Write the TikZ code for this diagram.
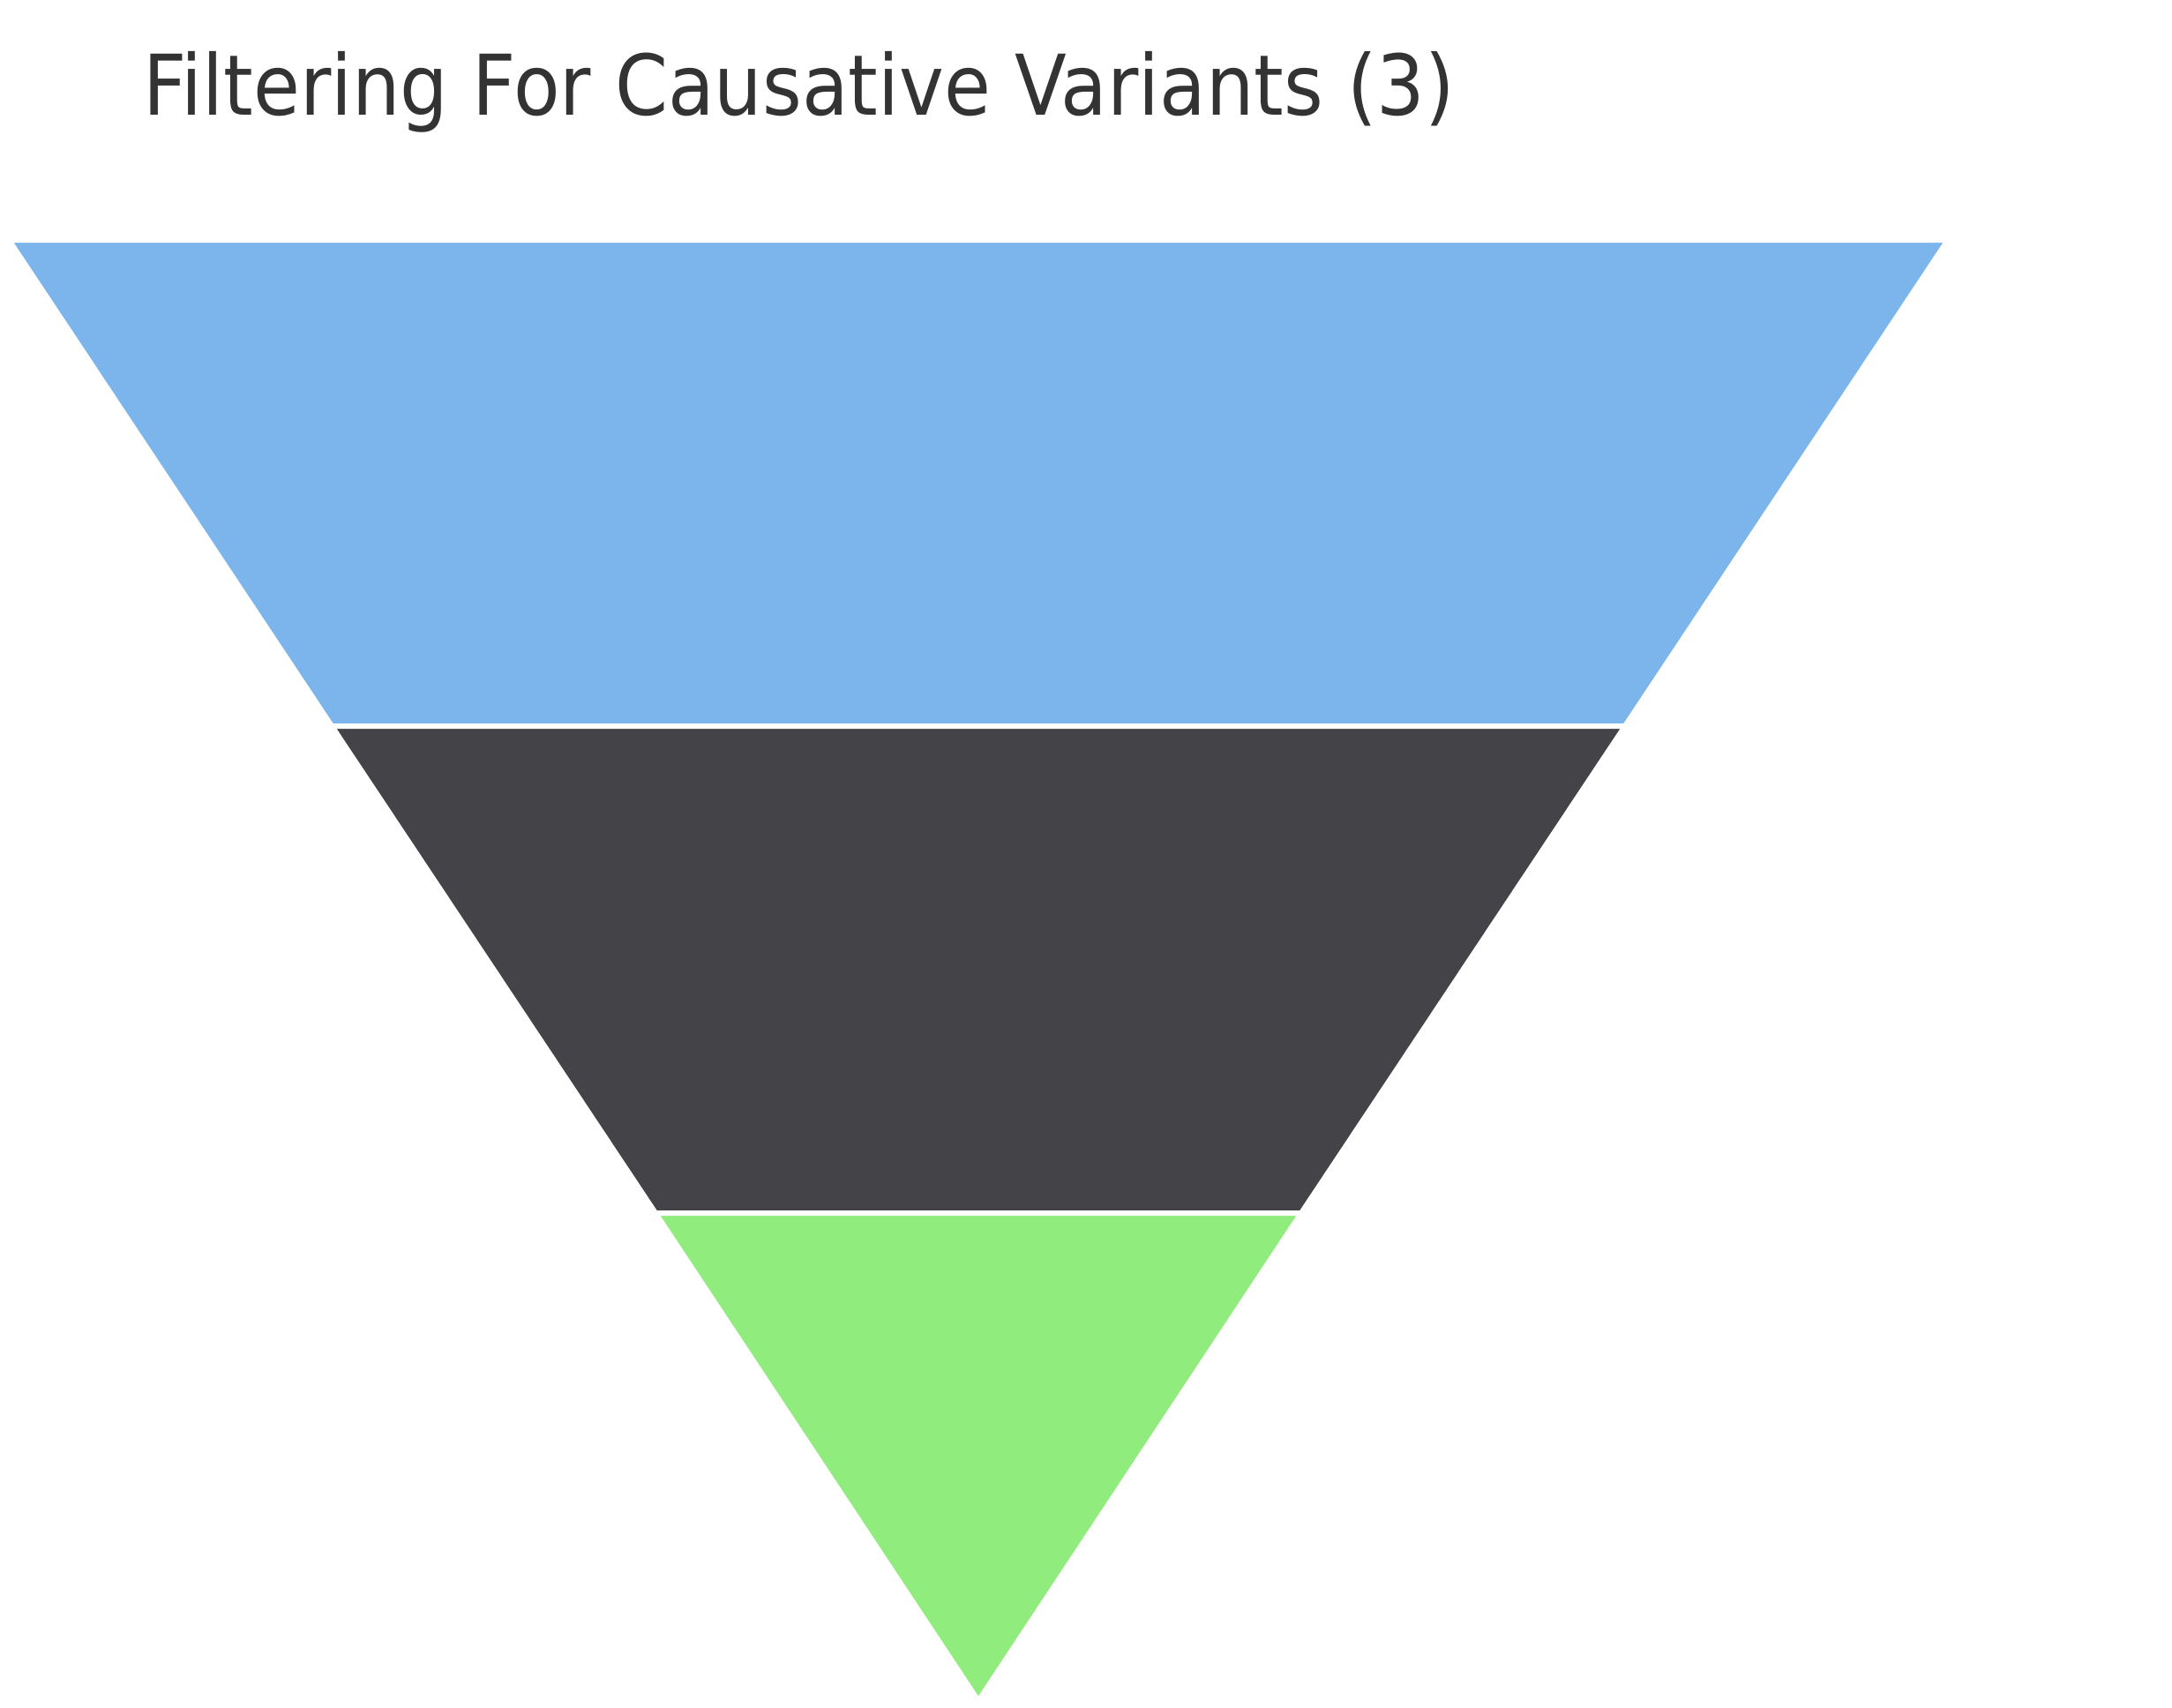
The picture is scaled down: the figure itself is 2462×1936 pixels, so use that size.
\documentclass[tikz,border=0pt]{standalone}
\usepackage{fontspec}
\setmainfont{DejaVu Sans}
\usetikzlibrary{calc}
\definecolor{topBand}{HTML}{7CB5EC}
\definecolor{midBand}{HTML}{434348}
\definecolor{lowBand}{HTML}{90ED7D}
\definecolor{titleGray}{HTML}{333333}

\begin{document}
\begin{tikzpicture}[
  x=0.01cm, y=-0.01cm,
  band/.style={fill=#1, draw=white, line width=0.06cm, line join=round},
  chartTitle/.style={anchor=base west, inner sep=0pt, text=titleGray,
                     font=\fontsize{27}{32}\selectfont}
]

% ===== Canvas =======================================================
\useasboundingbox[fill=white] (0,0) rectangle (2462,1936);

% ===== Title ========================================================
\node[chartTitle] (title) at (162,130)
  {\scalebox{0.905}[1]{Filtering For Causative Variants (3)}};

% ===== Funnel outline ===============================================
\coordinate (tl) at (10,272);
\coordinate (tr) at (2208,272);
\coordinate (ml) at (376,823);
\coordinate (mr) at (1842,823);
\coordinate (ll) at (743,1375);
\coordinate (lr) at (1475,1375);
\coordinate (apex) at (1109,1928);

% ===== Bands (top to bottom) ========================================
\filldraw[band=topBand] (tl) -- (tr) -- (mr) -- (ml) -- cycle;
\filldraw[band=midBand] (ml) -- (mr) -- (lr) -- (ll) -- cycle;
\filldraw[band=lowBand] (ll) -- (lr) -- (apex) -- cycle;

\end{tikzpicture}
\end{document}
